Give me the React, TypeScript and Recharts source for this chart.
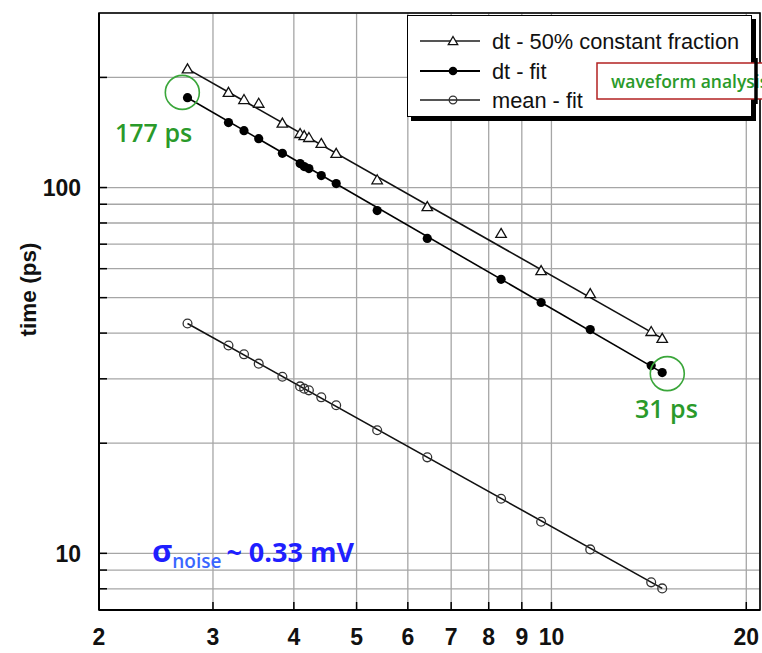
import React from 'react';
import { ScatterChart, Scatter, XAxis, YAxis, CartesianGrid, ReferenceDot, ReferenceArea, Legend } from 'recharts';

// amplitude / signal (x) values shared by all series
const signalX = [2.74, 3.17, 3.35, 3.53, 3.84, 4.09, 4.15, 4.22, 4.41, 4.65, 5.38, 6.43, 8.36, 9.64, 11.48, 14.26, 14.83];
const dtCFD = [211, 182, 174, 170, 150, 140.5, 138.7, 137, 132, 124, 105, 88.7, 74.9, 59.3, 51.3, 40.4, 38.7];
const dtFit = [176, 150.5, 143, 136, 124, 116.3, 114.1, 112.7, 107.8, 102.5, 86.5, 72.6, 56.1, 48.5, 40.9, 32.6, 31.2];
const meanFit = [42.5, 37.0, 35.0, 33.0, 30.4, 28.6, 28.2, 27.9, 26.7, 25.4, 21.7, 18.3, 14.1, 12.2, 10.25, 8.33, 8.02];

// power-law fit line endpoints
const fitX = [2.74, 14.83];
const cfdLine = [211, 38.7];
const dtLine = [176, 31.2];
const meanLine = [42.5, 8.02];

const seriesNames = ['dt - 50% constant fraction', 'dt - fit', 'mean - fit'];

const xDomain = [2, 21];
const yDomain = [7, 300];
const xTicks = [2, 3, 4, 5, 6, 7, 8, 9, 10, 20];
const yTicks = [8, 9, 10, 20, 30, 40, 50, 60, 70, 80, 90, 100, 200];
const yLabeled = [10, 100];

// highlighted points (annotation circles)
const highlightA = { x: 2.69, y: 182 };
const highlightB = { x: 15.1, y: 31.0 };

const toPts = (xs: number[], ys: number[]) => xs.map((x, i) => ({ x, y: ys[i] }));

const GREEN = '#2a9a2a';
const AXIS_FONT = '"Liberation Sans", Arial, sans-serif';
const ANN_FONT = '"Open Sans", "Noto Sans", sans-serif';

const Tri = ({ cx, cy, s = 5 }: any) => (
  <path
    d={`M${cx},${cy - s} L${cx + s * 1.05},${cy + s * 0.8} L${cx - s * 1.05},${cy + s * 0.8} Z`}
    fill="#fff"
    stroke="#111"
    strokeWidth={1.3}
  />
);
const Dot = ({ cx, cy, r = 4.6 }: any) => <circle cx={cx} cy={cy} r={r} fill="#000" />;
const Ring = ({ cx, cy, r = 4.4 }: any) => (
  <circle cx={cx} cy={cy} r={r} fill="none" stroke="#333" strokeWidth={1.3} />
);
const NoShape = () => <g />;

const LegendBox = () => {
  const rows = [
    { name: seriesNames[0], color: '#555', mark: <Tri cx={45} cy={31} s={4.5} /> },
    { name: seriesNames[1], color: '#000', mark: <Dot cx={45} cy={61} r={4.3} /> },
    { name: seriesNames[2], color: '#555', mark: <Ring cx={45} cy={90} r={3.8} /> },
  ];
  const ys = [25, 55, 84];
  return (
    <div
      style={{
        width: 345,
        height: 102,
        boxSizing: 'border-box',
        border: '1.5px solid #000',
        background: '#fff',
        boxShadow: '4px 4px 0 #000',
      }}
    >
      <svg width={343} height={100} style={{ display: 'block' }}>
        {rows.map((r, i) => (
          <g key={i}>
            <line x1={12} x2={72} y1={ys[i]} y2={ys[i]} stroke={r.color} strokeWidth={2} />
            {React.cloneElement(r.mark, { cy: ys[i] })}
            <text x={84} y={ys[i] + 7.5} fontFamily={AXIS_FONT} fontSize={21.8} fill="#111">
              {r.name}
            </text>
          </g>
        ))}
      </svg>
    </div>
  );
};

const YTitle = ({ viewBox }: any) => {
  const cx = 36;
  const cy = viewBox.y + viewBox.height / 2 - 22;
  return (
    <text
      x={cx}
      y={cy}
      transform={`rotate(-90 ${cx} ${cy})`}
      textAnchor="middle"
      fontFamily={AXIS_FONT}
      fontWeight={700}
      fontSize={22.5}
      fill="#111"
    >
      time (ps)
    </text>
  );
};

export default function App() {
  return (
    <div style={{ position: 'absolute', left: 0, top: 0, width: 762, height: 653, background: '#fff' }}>
      <ScatterChart width={762} height={653} margin={{ top: 13, right: 2, bottom: 0, left: 0 }}>
        <CartesianGrid stroke="#a6a6a6" strokeWidth={1.3} />
        <XAxis
          dataKey="x"
          type="number"
          scale="log"
          domain={xDomain}
          allowDataOverflow
          ticks={xTicks}
          interval={0}
          height={43}
          tickSize={-8}
          tickMargin={27}
          axisLine={{ stroke: '#000', strokeWidth: 2 }}
          tickLine={{ stroke: '#000', strokeWidth: 1.5 }}
          tick={{ fill: '#111', fontFamily: AXIS_FONT, fontWeight: 700, fontSize: 23 }}
        />
        <YAxis
          dataKey="y"
          type="number"
          scale="log"
          domain={yDomain}
          allowDataOverflow
          ticks={yTicks}
          interval={0}
          width={99}
          tickSize={-8}
          tickMargin={26}
          tickFormatter={(v: number) => (yLabeled.includes(v) ? String(v) : '')}
          axisLine={{ stroke: '#000', strokeWidth: 2 }}
          tickLine={{ stroke: '#000', strokeWidth: 1.5 }}
          tick={{ fill: '#111', fontFamily: AXIS_FONT, fontWeight: 700, fontSize: 23 }}
          label={{ content: (p: any) => <YTitle {...p} /> }}
        />
        <ReferenceArea
          x1={xDomain[0]}
          x2={xDomain[1]}
          y1={yDomain[0]}
          y2={yDomain[1]}
          fill="none"
          stroke="#000"
          strokeWidth={1.6}
          ifOverflow="visible"
        />
        <Legend
          layout="horizontal"
          verticalAlign="middle"
          align="center"
          wrapperStyle={{ position: 'absolute', left: 407, top: 15, width: 345, height: 102 }}
          content={() => <LegendBox />}
        />
        <Scatter
          name="cfd-fitline"
          data={toPts(fitX, cfdLine)}
          line={{ stroke: '#111', strokeWidth: 1.6 }}
          shape={NoShape}
          isAnimationActive={false}
          legendType="none"
        />
        <Scatter
          name="dt-fitline"
          data={toPts(fitX, dtLine)}
          line={{ stroke: '#000', strokeWidth: 1.6 }}
          shape={NoShape}
          isAnimationActive={false}
          legendType="none"
        />
        <Scatter
          name="mean-fitline"
          data={toPts(fitX, meanLine)}
          line={{ stroke: '#111', strokeWidth: 1.6 }}
          shape={NoShape}
          isAnimationActive={false}
          legendType="none"
        />
        <Scatter
          name={seriesNames[0]}
          data={toPts(signalX, dtCFD)}
          shape={(p: any) => <Tri cx={p.cx} cy={p.cy} />}
          isAnimationActive={false}
        />
        <Scatter
          name={seriesNames[1]}
          data={toPts(signalX, dtFit)}
          shape={(p: any) => <Dot cx={p.cx} cy={p.cy} />}
          isAnimationActive={false}
        />
        <Scatter
          name={seriesNames[2]}
          data={toPts(signalX, meanFit)}
          shape={(p: any) => <Ring cx={p.cx} cy={p.cy} />}
          isAnimationActive={false}
        />
        <ReferenceDot x={highlightA.x} y={highlightA.y} r={17} fill="none" stroke="#3aa63a" strokeWidth={1.6} />
        <ReferenceDot x={highlightB.x} y={highlightB.y} r={17} fill="none" stroke="#3aa63a" strokeWidth={1.6} />
      </ScatterChart>
      <svg
        width={762}
        height={653}
        style={{ position: 'absolute', left: 0, top: 0, pointerEvents: 'none' }}
      >
        <rect x={597} y={63} width={220} height={36} fill="#fff" stroke="#b22222" strokeWidth={1.5} />
        <text x={611} y={88} fontFamily={ANN_FONT} fontWeight={600} fontSize={17.5} fill={GREEN}>
          waveform analysis
        </text>
        <line x1={756} x2={756} y1={58} y2={104} stroke="#000" strokeWidth={3.5} />
        <text x={115} y={142} fontFamily={ANN_FONT} fontWeight={600} fontSize={25} fill={GREEN}>
          177 ps
        </text>
        <text x={635} y={418} fontFamily={ANN_FONT} fontWeight={600} fontSize={25} fill={GREEN}>
          31 ps
        </text>
        <text x={152} y={562} fontFamily={ANN_FONT} fontWeight={700} fill="#1f1fff">
          <tspan fontSize={31}>σ</tspan>
          <tspan fontSize={19} fontWeight={600} dy={6} fill="#3a66ff">noise</tspan>
          <tspan fontSize={27} dy={-6} dx={5}>~ 0.33 mV</tspan>
        </text>
      </svg>
    </div>
  );
}
